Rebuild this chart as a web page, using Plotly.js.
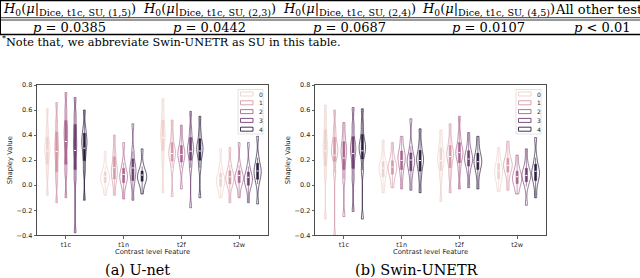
<!DOCTYPE html>
<html><head><meta charset="utf-8">
<script src="https://cdn.plot.ly/plotly-3.0.1.min.js"></script>
<style>html,body{margin:0;padding:0;background:#fff}#chart{width:640px;height:278px}</style>
</head><body><div id="chart"></div>
<script>
// ---------- data ----------
const features = ['t1c', 't1n', 't2f', 't2w'];
const hueLabels = ['0', '1', '2', '3', '4'];
const hueColors = ['#edd1cb', '#d499a7', '#aa678f', '#6e4071', '#2d1e3e'];

// U-net: per feature, per hue: estimated sample quantiles
const unet_t1c = [
  [-0.08, 0.10, 0.19, 0.25, 0.28, 0.31, 0.36, 0.45, 0.61],
  [-0.14, 0.04, 0.13, 0.22, 0.28, 0.33, 0.40, 0.50, 0.66],
  [-0.10, 0.10, 0.19, 0.31, 0.38, 0.43, 0.49, 0.60, 0.74],
  [-0.38, 0.05, 0.15, 0.26, 0.32, 0.38, 0.46, 0.56, 0.70],
  [-0.12, 0.12, 0.22, 0.29, 0.33, 0.36, 0.40, 0.46, 0.60]
];
const unet_t1n = [
  [-0.08, 0.00, 0.03, 0.05, 0.06, 0.07, 0.09, 0.15, 0.27],
  [-0.08, 0.02, 0.06, 0.10, 0.12, 0.15, 0.21, 0.28, 0.40],
  [-0.11, -0.01, 0.03, 0.06, 0.07, 0.09, 0.12, 0.18, 0.34],
  [-0.12, 0.00, 0.05, 0.10, 0.12, 0.14, 0.19, 0.27, 0.49],
  [-0.07, 0.01, 0.04, 0.06, 0.07, 0.08, 0.10, 0.15, 0.29]
];
const unet_t2f = [
  [-0.06, 0.20, 0.30, 0.37, 0.40, 0.44, 0.50, 0.58, 0.69],
  [-0.09, 0.14, 0.21, 0.24, 0.26, 0.28, 0.32, 0.40, 0.52],
  [-0.03, 0.14, 0.20, 0.23, 0.25, 0.27, 0.30, 0.37, 0.48],
  [-0.18, 0.14, 0.22, 0.27, 0.29, 0.31, 0.36, 0.44, 0.59],
  [-0.10, 0.14, 0.22, 0.27, 0.29, 0.31, 0.35, 0.43, 0.55]
];
const unet_t2w = [
  [-0.10, -0.03, 0.00, 0.03, 0.04, 0.05, 0.08, 0.14, 0.29],
  [-0.14, -0.02, 0.02, 0.05, 0.06, 0.07, 0.10, 0.16, 0.30],
  [-0.10, -0.01, 0.03, 0.05, 0.06, 0.07, 0.10, 0.16, 0.34],
  [-0.14, -0.03, 0.01, 0.04, 0.05, 0.06, 0.09, 0.15, 0.34],
  [-0.15, 0.01, 0.06, 0.09, 0.11, 0.13, 0.16, 0.22, 0.39]
];

// Swin-UNETR
const swin_t1c = [
  [-0.27, 0.08, 0.18, 0.26, 0.30, 0.34, 0.42, 0.52, 0.64],
  [-0.42, 0.10, 0.22, 0.26, 0.28, 0.31, 0.36, 0.45, 0.60],
  [-0.25, 0.05, 0.15, 0.22, 0.26, 0.29, 0.33, 0.40, 0.50],
  [-0.21, 0.05, 0.16, 0.24, 0.28, 0.31, 0.36, 0.47, 0.62],
  [-0.27, 0.12, 0.24, 0.28, 0.30, 0.33, 0.38, 0.48, 0.61]
];
const swin_t1n = [
  [-0.06, 0.03, 0.08, 0.12, 0.14, 0.15, 0.17, 0.24, 0.36],
  [-0.02, 0.05, 0.10, 0.13, 0.14, 0.15, 0.18, 0.24, 0.34],
  [-0.03, 0.08, 0.14, 0.19, 0.21, 0.23, 0.26, 0.31, 0.39],
  [-0.04, 0.07, 0.13, 0.17, 0.19, 0.21, 0.24, 0.31, 0.53],
  [-0.06, 0.06, 0.13, 0.18, 0.20, 0.22, 0.26, 0.33, 0.45]
];
const swin_t2f = [
  [-0.13, 0.06, 0.14, 0.19, 0.21, 0.23, 0.28, 0.34, 0.44],
  [-0.06, 0.08, 0.16, 0.22, 0.24, 0.26, 0.30, 0.37, 0.49],
  [-0.03, 0.12, 0.20, 0.24, 0.26, 0.28, 0.32, 0.40, 0.55],
  [-0.02, 0.10, 0.17, 0.19, 0.21, 0.23, 0.26, 0.32, 0.42],
  [-0.03, 0.08, 0.14, 0.17, 0.19, 0.21, 0.24, 0.30, 0.39]
];
const swin_t2w = [
  [-0.05, 0.02, 0.06, 0.09, 0.11, 0.13, 0.16, 0.21, 0.30],
  [-0.04, 0.06, 0.12, 0.15, 0.16, 0.17, 0.20, 0.26, 0.35],
  [-0.07, -0.01, 0.02, 0.05, 0.06, 0.07, 0.10, 0.15, 0.24],
  [-0.16, -0.01, 0.04, 0.07, 0.08, 0.09, 0.12, 0.18, 0.29],
  [-0.10, 0.00, 0.05, 0.08, 0.10, 0.12, 0.15, 0.22, 0.38]
];

// table texts
const testPairs = ['(1,5)', '(2,3)', '(2,4)', '(4,5)'];
const pValues = ['0.0385', '0.0442', '0.0687', '0.0107'];
const otherHeader = 'All other tests';
const otherP = '&lt; 0.01';
const noteText = '<sup>*</sup>Note that, we abbreviate Swin-UNETR as SU in this table.';
const captions = ['(a) U-net', '(b) Swin-UNETR'];
const yTicks = [-0.4, -0.2, 0.0, 0.2, 0.4, 0.6, 0.8];

// ---------- build ----------
const W = 640, H = 278;
const px = x => x / W;
const py = y => 1 - y / H;

function makeTraces(byFeature, xa, ya, group) {
  return hueLabels.map((h, hi) => {
    const x = [], y = [];
    byFeature.forEach((feat, fi) => feat[hi].forEach(v => { x.push(features[fi]); y.push(v); }));
    return {
      type: 'violin', x: x, y: y, xaxis: xa, yaxis: ya, name: h,
      offsetgroup: h, legendgroup: h, showlegend: false,
      scalegroup: group, scalemode: 'width', bandwidth: 0.045,
      line: { color: hueColors[hi], width: 0.7 }, fillcolor: 'rgba(0,0,0,0)',
      spanmode: 'hard', points: false,
      box: { visible: true, width: 0.22, fillcolor: hueColors[hi], line: { color: hueColors[hi], width: 0.6 } },
      meanline: { visible: true, color: '#ffffff', width: 1 },
      hoverinfo: 'skip'
    };
  });
}

const traces = makeTraces([unet_t1c, unet_t1n, unet_t2f, unet_t2w], 'x', 'y', 'unet')
  .concat(makeTraces([swin_t1c, swin_t1n, swin_t2f, swin_t2w], 'x2', 'y2', 'swin'));

const tickFont = { family: 'DejaVu Sans', size: 6.5, color: '#262626' };
const titleFont = { family: 'DejaVu Sans', size: 6.8, color: '#262626' };

function xAxis(domain, anchor) {
  return {
    domain: domain, anchor: anchor, type: 'category', categoryorder: 'array', categoryarray: features,
    range: [-0.5, 3.5], showline: true, mirror: true, linecolor: '#3a3a3a', linewidth: 0.9,
    ticks: 'outside', ticklen: 2.5, tickwidth: 0.8, tickcolor: '#3a3a3a', tickfont: tickFont,
    showgrid: false, zeroline: false, fixedrange: true,
    title: { text: 'Contrast level Feature', font: titleFont, standoff: 1 }
  };
}
function yAxis(anchor) {
  return {
    domain: [py(235.3), py(85)], anchor: anchor, range: [-0.4, 0.8], tickvals: yTicks, tickformat: '.1f',
    showline: true, mirror: true, linecolor: '#3a3a3a', linewidth: 0.9,
    ticks: 'outside', ticklen: 2.5, tickwidth: 0.8, tickcolor: '#3a3a3a', tickfont: tickFont,
    showgrid: false, zeroline: false, fixedrange: true,
    title: { text: 'Shapley Value', font: titleFont, standoff: 3 }
  };
}

const annotations = [];
const shapes = [];
const serif = 'DejaVu Serif';

// table
const colCenters = [69.5, 209.5, 349.5, 488.5, 602];
testPairs.forEach((pair, i) => {
  annotations.push({ xref: 'paper', yref: 'paper', x: px(colCenters[i]), y: py(9), xanchor: 'center', yanchor: 'middle',
    showarrow: false, font: { family: serif, size: 13, color: '#000' },
    text: '<i>H</i><sub>0</sub>(<i>μ</i>|<sub><span style="font-size:9.6px">Dice, t1c, SU, ' + pair + '</span></sub>)' });
  annotations.push({ xref: 'paper', yref: 'paper', x: px(colCenters[i]), y: py(27.3), xanchor: 'center', yanchor: 'middle',
    showarrow: false, font: { family: serif, size: 13, color: '#000' },
    text: '<i>p</i> = ' + pValues[i] });
});
annotations.push({ xref: 'paper', yref: 'paper', x: px(colCenters[4]), y: py(9), xanchor: 'center', yanchor: 'middle',
  showarrow: false, font: { family: serif, size: 13, color: '#000' }, text: otherHeader });
annotations.push({ xref: 'paper', yref: 'paper', x: px(colCenters[4]), y: py(27.3), xanchor: 'center', yanchor: 'middle',
  showarrow: false, font: { family: serif, size: 13, color: '#000' }, text: '<i>p</i> ' + otherP });
annotations.push({ xref: 'paper', yref: 'paper', x: px(0), y: py(41.7), xanchor: 'left', yanchor: 'middle',
  showarrow: false, font: { family: serif, size: 11.3, color: '#000' }, text: noteText });

const hline = (y, w) => ({ type: 'line', xref: 'paper', yref: 'paper', x0: 0, x1: 1, y0: py(y), y1: py(y), line: { color: '#000', width: w } });
shapes.push(hline(0.6, 1.2), hline(17.7, 0.8), hline(20, 0.8), hline(34.5, 1.3));
shapes.push({ type: 'line', xref: 'paper', yref: 'paper', x0: px(0.5), x1: px(0.5), y0: py(0), y1: py(34.5), line: { color: '#000', width: 1 } });

// captions
[137, 416.5].forEach((cx, i) => {
  annotations.push({ xref: 'paper', yref: 'paper', x: px(cx), y: py(270.3), xanchor: 'center', yanchor: 'middle',
    showarrow: false, font: { family: serif, size: 14.5, color: '#000' }, text: captions[i] });
});

// legends (manual, matplotlib style)
[268, 546].forEach(axRight => {
  const fx0 = axRight - 30, fx1 = axRight - 5;
  shapes.push({ type: 'rect', xref: 'paper', yref: 'paper', x0: px(fx0), x1: px(fx1), y0: py(89.5), y1: py(134),
    line: { color: '#dcdcdc', width: 0.8 }, fillcolor: 'rgba(255,255,255,0.85)', layer: 'above' });
  hueLabels.forEach((lab, i) => {
    const cy = 94 + i * 8.8;
    shapes.push({ type: 'rect', xref: 'paper', yref: 'paper', x0: px(fx0 + 2.5), x1: px(fx0 + 15), y0: py(cy - 2), y1: py(cy + 2),
      line: { color: hueColors[i], width: 0.9 }, fillcolor: 'rgba(0,0,0,0)', layer: 'above' });
    annotations.push({ xref: 'paper', yref: 'paper', x: px(fx0 + 20), y: py(cy), xanchor: 'left', yanchor: 'middle',
      showarrow: false, font: { family: 'DejaVu Sans', size: 6, color: '#262626' }, text: lab, borderpad: 0 });
  });
});

const layout = {
  width: W, height: H, margin: { l: 0, r: 0, t: 0, b: 0 },
  paper_bgcolor: '#ffffff', plot_bgcolor: '#ffffff',
  showlegend: false, violinmode: 'group', violingap: 0.2, violingroupgap: 0,
  xaxis: xAxis([px(37), px(268)], 'y'),
  yaxis: yAxis('x'),
  xaxis2: xAxis([px(315), px(546)], 'y2'),
  yaxis2: yAxis('x2'),
  annotations: annotations, shapes: shapes
};

Plotly.newPlot('chart', traces, layout, { staticPlot: true, displayModeBar: false });
</script>
</body></html>
